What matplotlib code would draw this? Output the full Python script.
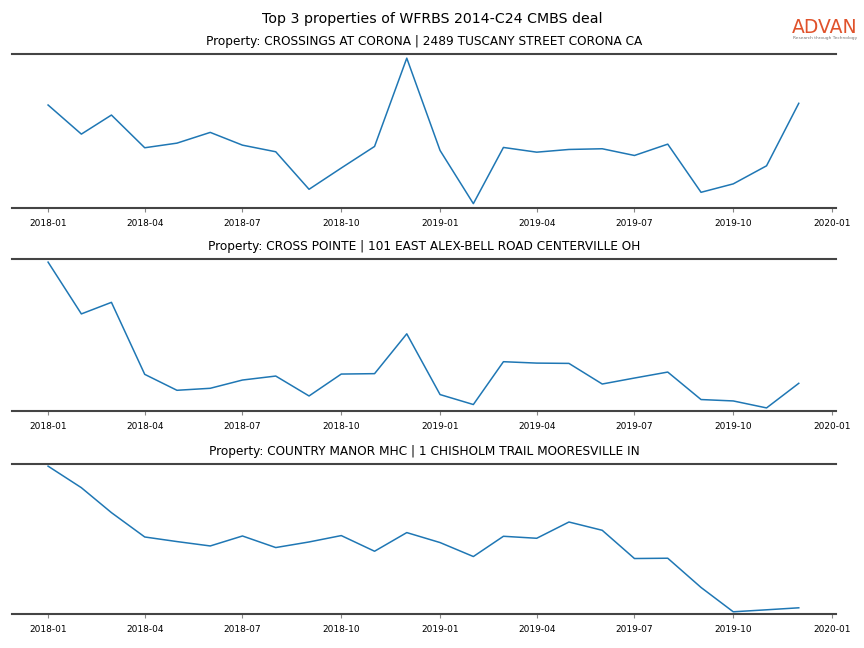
import numpy as np
import pandas as pd
import matplotlib
matplotlib.use('Agg')
import matplotlib.pyplot as plt
import matplotlib.dates as mdates

months = pd.date_range('2018-01-01', '2019-12-01', freq='MS')

titles = ['Property: CROSSINGS AT CORONA | 2489 TUSCANY STREET CORONA CA',
          'Property: CROSS POINTE | 101 EAST ALEX-BELL ROAD CENTERVILLE OH',
          'Property: COUNTRY MANOR MHC | 1 CHISHOLM TRAIL MOORESVILLE IN']

# monthly visits (relative units)
corona = [102.3, 73.3, 92.3, 59.7, 64.3, 75.0, 62.3, 55.7, 18.3, 39.5, 61.0, 149.0,
          57.0, 4.0, 60.0, 55.3, 58.0, 58.7, 52.0, 63.3, 15.3, 23.7, 41.7, 104.0]
cross_pointe = [148.7, 96.7, 108.3, 36.0, 20.0, 22.0, 30.3, 34.3, 14.3, 36.3, 36.7, 76.7,
                15.7, 5.7, 48.7, 47.3, 47.0, 26.3, 32.3, 38.3, 10.7, 9.3, 2.3, 27.0]
country_manor = [147.3, 125.7, 100.7, 76.3, 71.7, 67.3, 77.3, 65.7, 71.3, 77.7, 62.0, 80.7,
                 70.7, 56.7, 77.0, 75.0, 91.3, 83.0, 54.7, 55.0, 25.7, 1.3, 3.3, 5.3]

series = [corona, cross_pointe, country_manor]
ymargins = [0.03, 0.02, 0.015]

fig = plt.figure(figsize=(8.64, 6.48), dpi=100)
boxes = [[0.014, 0.679, 0.954, 0.238],
         [0.014, 0.366, 0.954, 0.234],
         [0.014, 0.0525, 0.954, 0.2315]]

for box, vals, title, ym in zip(boxes, series, titles, ymargins):
    ax = fig.add_axes(box)
    ax.plot(months, vals, color='#1f77b4', lw=1.1)
    ax.margins(y=ym)
    ax.set_title(title, fontsize=8.7, pad=6.5)
    ax.xaxis.set_major_locator(mdates.MonthLocator(bymonth=[1, 4, 7, 10]))
    ax.xaxis.set_major_formatter(mdates.DateFormatter('%Y-%m'))
    ax.set_xlim(mdates.date2num(pd.Timestamp('2017-11-28 12:00')),
                mdates.date2num(pd.Timestamp('2020-01-05')))
    ax.tick_params(axis='x', labelsize=6.5, length=3, color='#888888', pad=5)
    ax.set_yticks([])
    for side in ['left', 'right']:
        ax.spines[side].set_visible(False)
    for side in ['top', 'bottom']:
        ax.spines[side].set_color('#444444')
        ax.spines[side].set_linewidth(1.5)

fig.text(0.5, 0.971, 'Top 3 properties of WFRBS 2014-C24 CMBS deal', ha='center', va='center', fontsize=10.2)

# logo
fig.text(0.955, 0.958, 'ADVAN', ha='center', va='center', fontsize=13.5, color='#e0522b')
fig.text(0.955, 0.941, 'Research through Technology', ha='center', va='center', fontsize=3.2, color='#777777')

plt.savefig('out.png', dpi=100)
